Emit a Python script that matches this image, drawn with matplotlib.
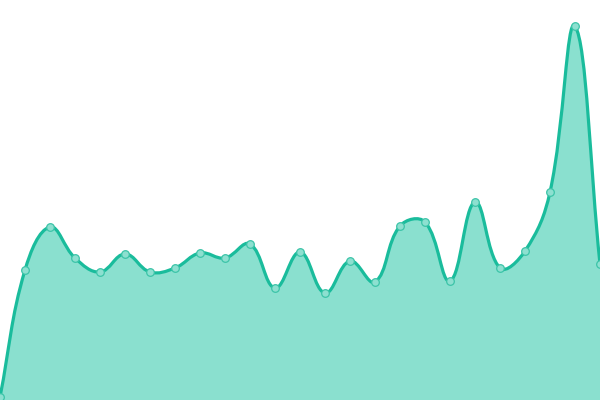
import numpy as np
import matplotlib
matplotlib.use("Agg")
import matplotlib.pyplot as plt
from matplotlib.path import Path
from matplotlib.patches import PathPatch

# values, one per point (25 points)
labels = list(range(25))
values = [3, 130, 173, 142, 128, 146, 128, 132, 147, 142, 156, 112, 148,
          107, 139, 118, 174, 178, 119, 198, 132, 149, 208, 374, 136]

line_color = "#1abc9c"
fill_color = "#8ae0cf"
tension = 0.4

fig = plt.figure(figsize=(6, 4), dpi=100)
ax = fig.add_axes([0, 0, 1, 1])
ax.set_xlim(0, len(values) - 1)
ax.set_ylim(0, 400)
ax.axis("off")

# spline control points (chart.js style), computed in display space
x = np.array(labels, dtype=float)
y = np.array(values, dtype=float)
pts = ax.transData.transform(np.column_stack([x, y]))
n = len(pts)
ctrl_prev = np.zeros_like(pts)
ctrl_next = np.zeros_like(pts)
for i in range(n):
    p = pts[i]
    prv = pts[i - 1] if i > 0 else p
    nxt = pts[i + 1] if i < n - 1 else p
    d01 = np.hypot(*(p - prv))
    d12 = np.hypot(*(nxt - p))
    s = d01 + d12
    fa = tension * d01 / s if s else 0
    fb = tension * d12 / s if s else 0
    ctrl_prev[i] = p - fa * (nxt - prv)
    ctrl_next[i] = p + fb * (nxt - prv)

# keep control points inside the plot area
bbox = ax.bbox
for c in (ctrl_prev, ctrl_next):
    c[:, 0] = np.clip(c[:, 0], bbox.x0, bbox.x1)
    c[:, 1] = np.clip(c[:, 1], bbox.y0, bbox.y1)

inv = ax.transData.inverted()
pts_d = inv.transform(pts)
cp_d = inv.transform(ctrl_prev)
cn_d = inv.transform(ctrl_next)

verts = [pts_d[0]]
codes = [Path.MOVETO]
for i in range(n - 1):
    verts += [cn_d[i], cp_d[i + 1], pts_d[i + 1]]
    codes += [Path.CURVE4] * 3

line_path = Path(verts, codes)
fill_verts = verts + [(x[-1], 0), (x[0], 0), verts[0]]
fill_codes = codes + [Path.LINETO, Path.LINETO, Path.CLOSEPOLY]
fill_path = Path(fill_verts, fill_codes)

ax.add_patch(PathPatch(fill_path, facecolor=fill_color, edgecolor="none"))
ax.add_patch(PathPatch(line_path, facecolor="none", edgecolor=line_color,
                       linewidth=2.3, capstyle="round", joinstyle="round"))
ax.plot(x, y, linestyle="none", marker="o", markersize=5.5,
        markerfacecolor="#8de0d0", markeredgecolor="#3cc4a8",
        markeredgewidth=0.9, zorder=3)

fig.savefig("out.png", dpi=100)
